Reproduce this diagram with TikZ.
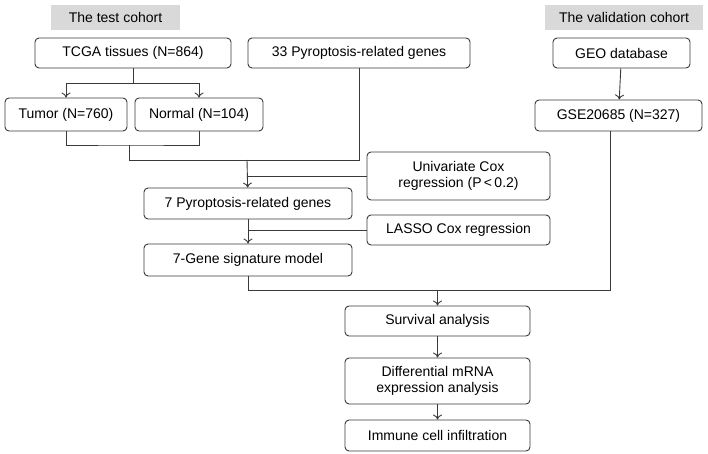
\documentclass[tikz,border=0pt]{standalone}
\usepackage{fontspec}
\setmainfont{Liberation Sans}
\usetikzlibrary{arrows.meta}
\definecolor{header}{HTML}{D9D9D9}
\definecolor{edge}{HTML}{3A3A3A}

\begin{document}
\begin{tikzpicture}[x=1pt, y=-1pt,
    box/.style={draw=edge, line width=0.9pt, rounded corners=4pt, fill=white, font=\fontsize{14}{16.5}\selectfont, align=center, inner sep=0pt},
    head/.style={fill=header, font=\fontsize{14}{16.5}\selectfont, inner sep=0pt},
    link/.style={draw=edge, line width=0.9pt},
    flow/.style={link, -{To[length=5pt, width=9pt]}}]
      \useasboundingbox (0,0) rectangle (708,454);

      % headers
      \node[head, minimum width=129pt, minimum height=25pt] (testhead) at (115.5,17.5) {The test cohort};
      \node[head, minimum width=158pt, minimum height=25pt] (validhead) at (624,17.5) {The validation cohort};

      % test cohort
      \node[box, minimum width=196pt, minimum height=30pt] (tcga) at (133,53) {TCGA tissues (N=864)};
      \node[box, minimum width=122pt, minimum height=33pt] (tumor) at (66,114.5) {Tumor (N=760)};
      \node[box, minimum width=128pt, minimum height=33pt] (normal) at (199,114.5) {Normal (N=104)};
      \node[box, minimum width=222pt, minimum height=30pt] (genes) at (359,53) {33 Pyroptosis-related genes};
      \node[box, minimum width=208pt, minimum height=31pt] (pyro) at (248,203.5) {7 Pyroptosis-related genes};
      \node[box, minimum width=183pt, minimum height=48pt] (unicox) at (458.5,176) {Univariate Cox\\regression (P\,<\,0.2)};
      \node[box, minimum width=183pt, minimum height=30pt] (lasso) at (458.5,230) {LASSO Cox regression};
      \node[box, minimum width=208pt, minimum height=32pt] (model) at (248,260) {7-Gene signature model};

      % validation cohort
      \node[box, minimum width=137pt, minimum height=30pt] (geo) at (621.5,53) {GEO database};
      \node[box, minimum width=167pt, minimum height=31pt] (gse) at (618.5,115.5) {GSE20685 (N=327)};

      % analyses
      \node[box, minimum width=185pt, minimum height=30pt] (surv) at (437.5,321) {Survival analysis};
      \node[box, minimum width=185pt, minimum height=46pt] (diff) at (437.5,381) {Differential mRNA\\expression analysis};
      \node[box, minimum width=185pt, minimum height=31pt] (immune) at (437.5,435.5) {Immune cell infiltration};

      % junctions
      \coordinate (split) at (133,83);
      \coordinate (merge) at (129,145);
      \coordinate (join) at (247,160);
      \coordinate (valid) at (437.5,290);
      \coordinate (gseout) at (610,131);

      % connectors
      \draw[link] (tcga) -- (split);
      \draw[flow] (split) -| (tumor);
      \draw[flow] (split) -| (normal);
      \draw[link] (tumor.south) |- (merge) -| (normal.south);
      \draw[link] (merge) |- (join);
      \draw[link] (genes) |- (join);
      \draw[flow] (join) -- (pyro);
      \draw[link] (unicox.west) -- (unicox.west -| join);
      \draw[flow] (pyro) -- (model);
      \draw[link] (lasso.west) -- (lasso.west -| pyro);
      \draw[link] (model) |- (valid);
      \draw[link] (gseout) |- (valid);
      \draw[flow] (valid) -- (surv);
      \draw[flow] (geo) -- (gse);
      \draw[flow] (surv) -- (diff);
      \draw[flow] (diff) -- (immune);
    \end{tikzpicture}
\end{document}
